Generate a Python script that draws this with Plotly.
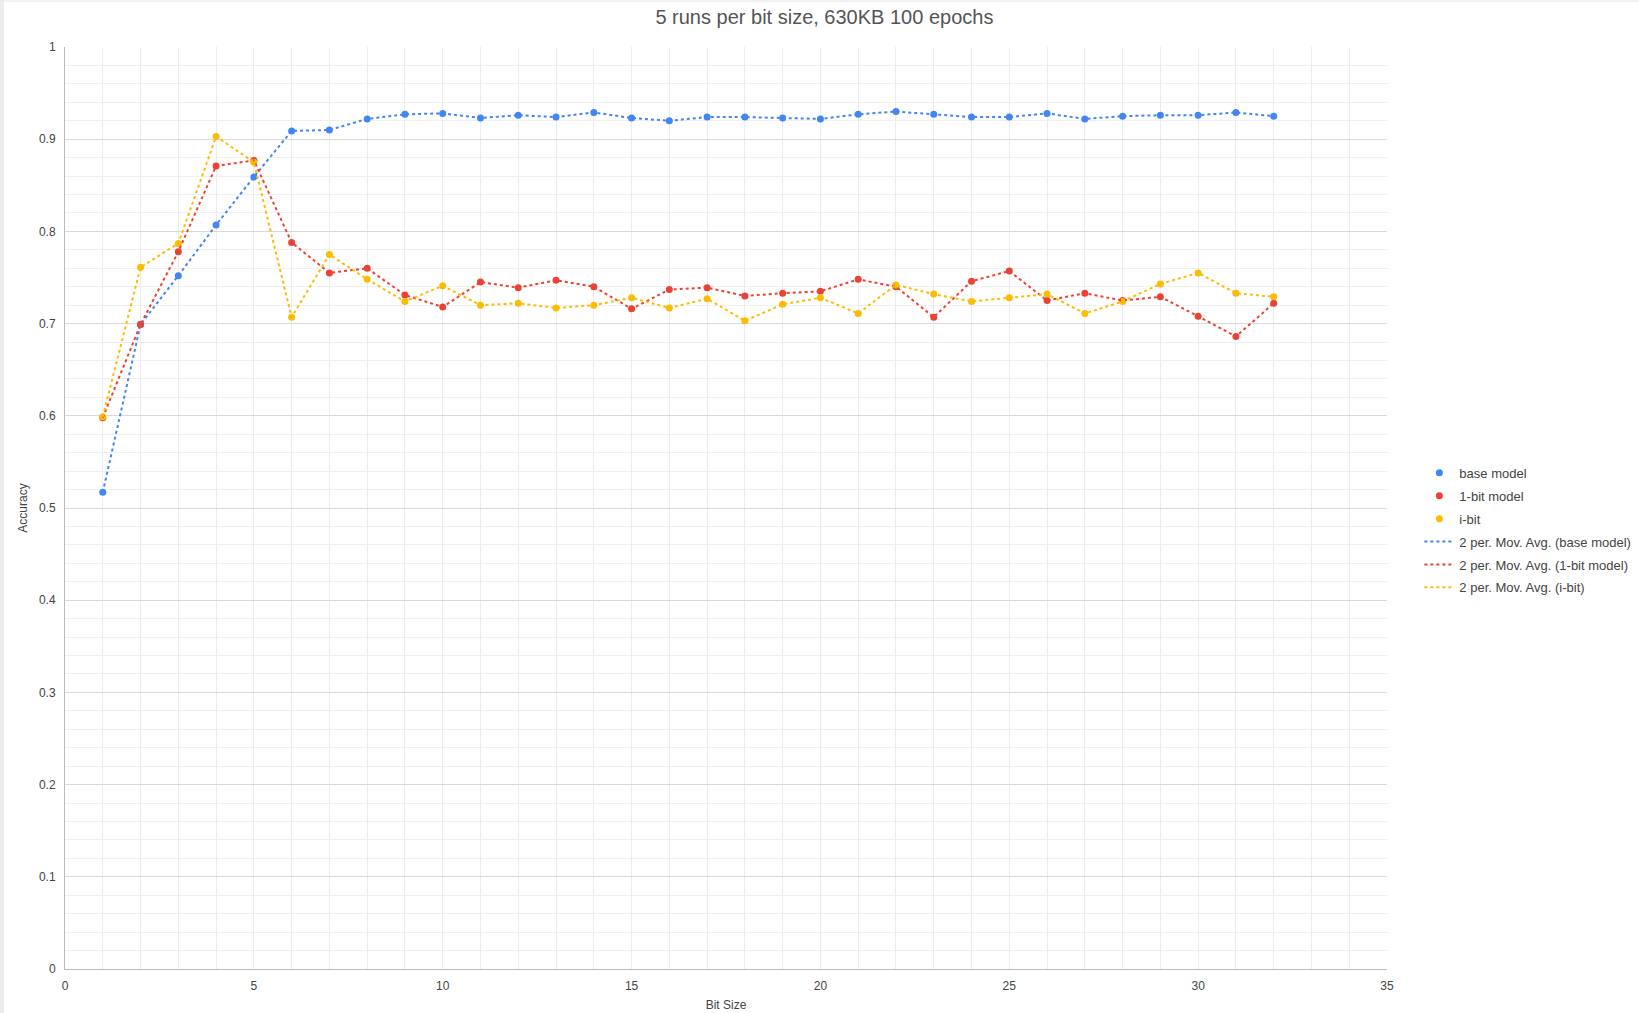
import plotly.graph_objects as go

bit_size = list(range(1, 33))

base_model = [0.517, 0.699, 0.752, 0.807, 0.859, 0.909, 0.910, 0.922, 0.927, 0.928,
              0.923, 0.926, 0.924, 0.929, 0.923, 0.920, 0.924, 0.924, 0.923, 0.922,
              0.927, 0.930, 0.927, 0.924, 0.924, 0.928, 0.922, 0.925, 0.926, 0.926,
              0.929, 0.925]

one_bit_model = [0.598, 0.699, 0.778, 0.871, 0.877, 0.788, 0.755, 0.760, 0.731, 0.718,
                 0.745, 0.739, 0.747, 0.740, 0.716, 0.737, 0.739, 0.730, 0.733, 0.735,
                 0.748, 0.740, 0.707, 0.746, 0.757, 0.725, 0.733, 0.725, 0.729, 0.708,
                 0.686, 0.722]

i_bit = [0.599, 0.761, 0.787, 0.903, 0.875, 0.707, 0.775, 0.748, 0.724, 0.741,
         0.720, 0.722, 0.717, 0.720, 0.728, 0.717, 0.727, 0.703, 0.721, 0.728,
         0.711, 0.742, 0.732, 0.724, 0.728, 0.732, 0.711, 0.724, 0.743, 0.755,
         0.733, 0.729]

series = [
    ("base model", base_model, "#4285F4"),
    ("1-bit model", one_bit_model, "#EA4335"),
    ("i-bit", i_bit, "#FBBC04"),
]

fig = go.Figure()

for name, vals, col in series:
    fig.add_trace(go.Scatter(
        x=bit_size, y=vals, mode="markers", name=name,
        marker=dict(color=col, size=7), legendgroup=name,
    ))
for name, vals, col in series:
    fig.add_trace(go.Scatter(
        x=bit_size, y=vals, mode="lines", name=f"2 per. Mov. Avg. ({name})",
        line=dict(color=col, width=2, dash="dot"), legendgroup="ma " + name,
    ))

FONT = "Liberation Sans, Arial, sans-serif"

fig.update_layout(
    width=1639, height=1013,
    paper_bgcolor="white", plot_bgcolor="white",
    margin=dict(l=65, r=252, t=47, b=44, autoexpand=False),
    font=dict(family=FONT, size=12, color="#444"),
    title=dict(text="5 runs per bit size, 630KB 100 epochs",
               x=0.503, xanchor="center", y=0.983, yanchor="middle",
               font=dict(family=FONT, size=20, color="#555")),
    showlegend=True,
    legend=dict(xref="container", yref="container",
                x=0.866, xanchor="left", y=0.548, yanchor="top",
                font=dict(family=FONT, size=13, color="#444"), tracegroupgap=3,
                bgcolor="rgba(0,0,0,0)"),
    xaxis=dict(
        range=[0, 35], dtick=5, tick0=0,
        showgrid=True, gridcolor="#ececec", gridwidth=1,
        minor=dict(dtick=1, showgrid=True, gridcolor="#ececec", gridwidth=1),
        showline=True, linecolor="#bbb", linewidth=1,
        zeroline=False, ticks="", ticklabelstandoff=6, automargin=False,
        tickfont=dict(family=FONT, size=12, color="#444"),
        title=dict(text="Bit Size", font=dict(family=FONT, size=12, color="#444"), standoff=8),
    ),
    yaxis=dict(
        range=[0, 1], dtick=0.1, tick0=0,
        showgrid=True, gridcolor="#d9d9d9", gridwidth=1,
        minor=dict(dtick=0.02, showgrid=True, gridcolor="#f0f0f0", gridwidth=1),
        showline=True, linecolor="#bbb", linewidth=1,
        zeroline=False, ticks="", ticklabelstandoff=6, automargin=False,
        tickformat="~g",
        tickfont=dict(family=FONT, size=12, color="#444"),
        title=dict(text="Accuracy", font=dict(family=FONT, size=12, color="#444"), standoff=8),
    ),
    shapes=[
        dict(type="rect", xref="paper", yref="paper",
             x0=-65 / 1322, x1=-61 / 1322, y0=-44 / 922, y1=1 + 47 / 922,
             fillcolor="#ececec", line=dict(width=0), layer="above"),
        dict(type="line", xref="paper", yref="paper",
             x0=-65 / 1322, x1=1 + 252 / 1322, y0=1 + 46 / 922, y1=1 + 46 / 922,
             line=dict(color="#e6e6e6", width=1)),
    ],
)

fig.write_html("out.html")
